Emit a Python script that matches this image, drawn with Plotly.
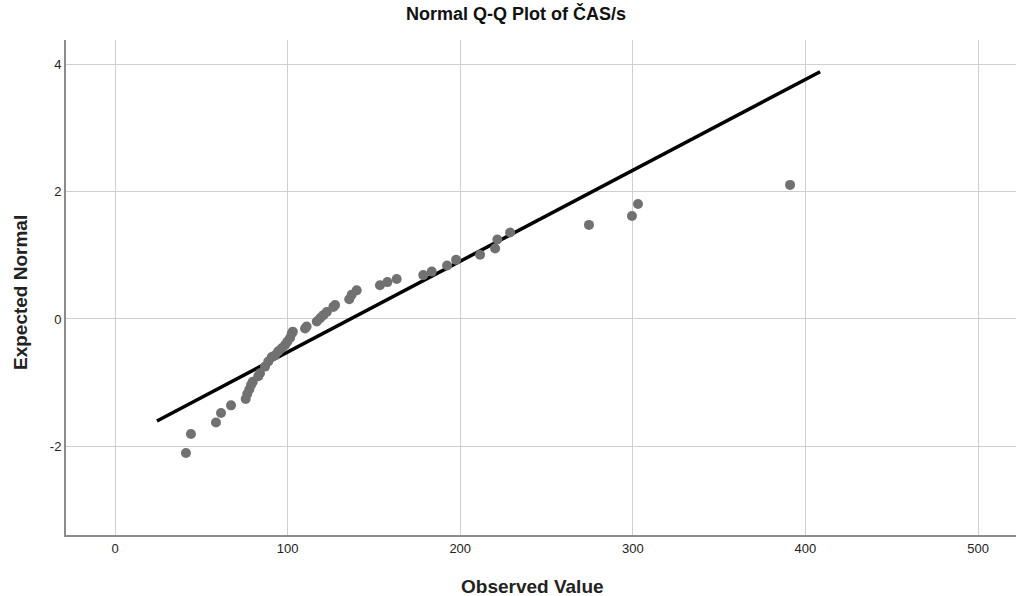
import plotly.graph_objects as go

observed = [41.1, 44.0, 58.5, 61.4, 67.2, 75.7, 76.6, 77.8, 78.8, 79.8,
            83.0, 84.0, 86.9, 88.8, 90.8, 92.7, 94.6, 96.6, 98.5, 99.8,
            101.4, 102.4, 103.0, 110.1, 111.0, 116.9, 118.8, 120.7, 122.7, 126.5,
            127.5, 135.7, 137.1, 140.0, 153.5, 157.8, 163.2, 178.6, 183.5, 192.4,
            197.6, 211.5, 220.2, 221.5, 228.9, 274.6, 299.5, 303.0, 391.1]
expected = [-2.11, -1.81, -1.63, -1.48, -1.36, -1.26, -1.18, -1.11, -1.04, -0.99,
            -0.90, -0.855, -0.75, -0.67, -0.60, -0.57, -0.51, -0.46, -0.41, -0.36,
            -0.30, -0.23, -0.20, -0.15, -0.12, -0.04, 0.01, 0.06, 0.11, 0.19,
            0.22, 0.31, 0.38, 0.45, 0.53, 0.58, 0.63, 0.69, 0.745, 0.84,
            0.93, 1.01, 1.11, 1.25, 1.36, 1.48, 1.62, 1.81, 2.11]

# Reference line parameters (normal fit)
line_mean = 136.5
line_sd = 69.9
line_x = [24.3, 408.5]

x_ticks = [0, 100, 200, 300, 400, 500]
x_tick_labels = ["0", "100", "200", "300", "400", "500"]
y_ticks = [-2, 0, 2, 4]
y_tick_labels = ["-2", "0", "2", "4"]

line_y = [(v - line_mean) / line_sd for v in line_x]

fig = go.Figure()
fig.add_trace(go.Scatter(x=line_x, y=line_y, mode="lines",
                         line=dict(color="black", width=3.5), showlegend=False))
fig.add_trace(go.Scatter(x=observed, y=expected, mode="markers",
                         marker=dict(color="#717171", size=10), showlegend=False))

font_family = "Liberation Sans, Arial, sans-serif"
fig.update_layout(
    width=1016, height=596,
    margin=dict(l=66, r=0, t=40, b=61, autoexpand=False),
    plot_bgcolor="white", paper_bgcolor="white",
    font=dict(family=font_family, color="#222222"),
    title=dict(text="<b>Normal Q-Q Plot of ČAS/s</b>", x=516 / 1016, xref="container",
               y=1 - 14 / 596, yref="container", yanchor="middle", xanchor="center",
               font=dict(size=18, color="#111111", family=font_family)),
    xaxis=dict(range=[-28.4, 522], tickvals=x_ticks, ticktext=x_tick_labels,
               showgrid=True, gridcolor="#cfcfcf", gridwidth=1, zeroline=False,
               showline=True, linecolor="#8c8c8c", linewidth=2, automargin=False,
               ticks="", tickfont=dict(size=13, color="#222222")),
    yaxis=dict(range=[-3.40, 4.39], tickvals=y_ticks, ticktext=y_tick_labels,
               showgrid=True, gridcolor="#cfcfcf", gridwidth=1, zeroline=False,
               showline=True, linecolor="#8c8c8c", linewidth=2, automargin=False,
               ticks="", tickfont=dict(size=13, color="#222222")),
    annotations=[
        dict(text="<b>Observed Value</b>", xref="paper", yref="paper",
             x=(532 - 66) / 950, y=0, yshift=-51, xanchor="center", yanchor="middle",
             showarrow=False, font=dict(size=19, color="#222222")),
        dict(text="<b>Expected Normal</b>", xref="paper", yref="paper",
             x=0, y=(535 - 293) / 495, xshift=-46, xanchor="center", yanchor="middle",
             textangle=-90, showarrow=False, font=dict(size=19, color="#222222")),
    ],
)

fig.write_html("out.html", config={"displayModeBar": False},
               post_script="document.body.style.margin='0px';"
                           "document.body.style.overflow='hidden';")
